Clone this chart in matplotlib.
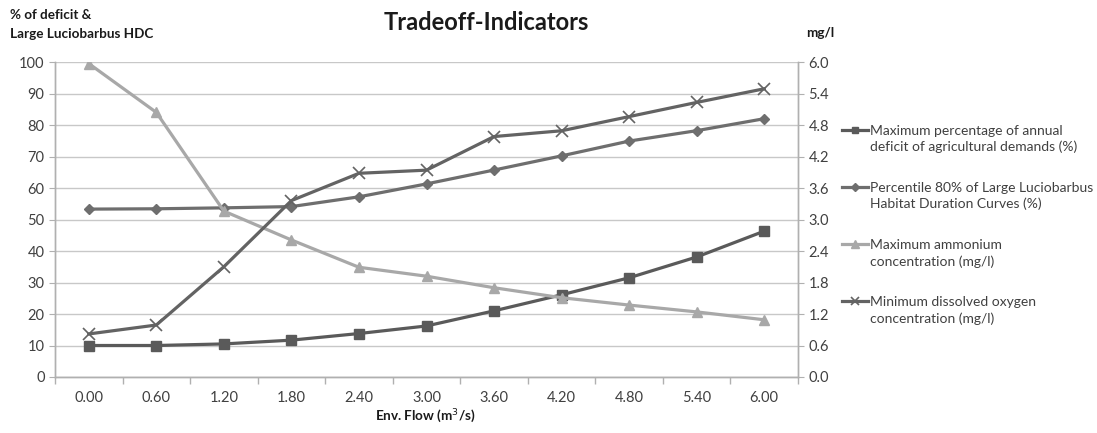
import matplotlib
matplotlib.use("Agg")
import matplotlib.pyplot as plt
from matplotlib.offsetbox import DrawingArea
import numpy as np

plt.rcParams['font.family'] = ['Lato', 'DejaVu Sans']

flow_labels = ["0.00", "0.60", "1.20", "1.80", "2.40", "3.00", "3.60", "4.20", "4.80", "5.40", "6.00"]
deficit = [10.0, 10.0, 10.5, 11.7, 13.8, 16.2, 21.0, 26.1, 31.5, 38.1, 46.3]
hdc = [53.3, 53.4, 53.7, 54.1, 57.2, 61.3, 65.7, 70.2, 74.9, 78.2, 82.0]
ammonium = [5.97, 5.04, 3.16, 2.61, 2.09, 1.92, 1.70, 1.51, 1.37, 1.24, 1.09]
oxygen = [0.82, 0.99, 2.10, 3.36, 3.88, 3.94, 4.58, 4.69, 4.96, 5.23, 5.49]

labels = [
    "Maximum percentage of annual\ndeficit of agricultural demands (%)",
    "Percentile 80% of Large Luciobarbus\nHabitat Duration Curves (%)",
    "Maximum ammonium\nconcentration (mg/l)",
    "Minimum dissolved oxygen\nconcentration (mg/l)",
]

c_def = "#5a5a5a"
c_hdc = "#6e6e6e"
c_amm = "#a8a8a8"
c_oxy = "#636363"
txt = "#404040"
axc = "#b0b0b0"

fig = plt.figure(figsize=(10.97, 4.33), dpi=100)
ax = fig.add_axes([55/1097, 1-377/433, (798-55)/1097, (377-62)/433])
ax2 = ax.twinx()

x = np.arange(len(flow_labels))
h1, = ax.plot(x, deficit, color=c_def, lw=2.3, marker="s", ms=6.5, label=labels[0], zorder=3)
h2, = ax.plot(x, hdc, color=c_hdc, lw=2.3, marker="D", ms=5.5, label=labels[1], zorder=3)
h3, = ax2.plot(x, ammonium, color=c_amm, lw=2.3, marker="^", ms=7.5, label=labels[2], zorder=3)
h4, = ax2.plot(x, oxygen, color=c_oxy, lw=2.3, marker="x", ms=8, mew=1.2, label=labels[3], zorder=3)

ax.set_xlim(-0.5, len(flow_labels) - 0.5)
ax.set_ylim(0, 100)
ax2.set_ylim(0, 6)
ax.set_yticks(np.arange(0, 101, 10))
ax2.set_yticks(np.round(np.arange(0, 6.01, 0.6), 1))
ax2.set_yticklabels([f"{v:.1f}" for v in np.arange(0, 6.01, 0.6)])
ax.set_xticks(x)
ax.set_xticklabels(flow_labels)
ax.set_xticks(np.arange(-0.5, len(flow_labels)), minor=True)
ax.tick_params(axis="x", which="major", length=0, pad=10, labelsize=10.5, colors=txt)
ax.tick_params(axis="x", which="minor", length=5, color=axc, width=1)
ax.tick_params(axis="y", length=4, color=axc, labelsize=10.5, labelcolor=txt)
ax2.tick_params(axis="y", length=4, color=axc, labelsize=10.5, labelcolor=txt)

ax.grid(axis="y", color="#c8c8c8", lw=1)
ax.set_axisbelow(True)
for a in (ax, ax2):
    a.spines["top"].set_visible(False)
    for s in ("left", "bottom", "right"):
        a.spines[s].set_color(axc)
        a.spines[s].set_linewidth(1)

fig.text(486/1097, 1-22/433, "Tradeoff-Indicators", ha="center", va="center",
         fontsize=17, fontweight="bold", color="#1a1a1a")
fig.text(10/1097, 1-15/433, "% of deficit &", ha="left", va="center",
         fontsize=9.7, fontweight="bold", color="#1a1a1a")
fig.text(10/1097, 1-34/433, "Large Luciobarbus HDC", ha="left", va="center",
         fontsize=9.7, fontweight="bold", color="#1a1a1a")
fig.text(806/1097, 1-33/433, "mg/l", ha="left", va="center",
         fontsize=9.7, fontweight="bold", color="#1a1a1a")
fig.text(425/1097, 1-416/433, "Env. Flow (m$^3$/s)", ha="center", va="center",
         fontsize=9.7, fontweight="bold", color="#1a1a1a")

leg = fig.legend(handles=[h1, h2, h3, h4], loc="upper left",
                 bbox_to_anchor=(842/1097, 1-125/433), frameon=False,
                 fontsize=10.0, handlelength=1.9, handletextpad=0.15,
                 labelspacing=2.07, borderaxespad=0, borderpad=0, markerscale=0.75)
for t in leg.get_texts():
    t.set_color(txt)
    t.set_linespacing(1.36)
# align handles with the first line of each label (as in the source chart)
for da in leg.findobj(lambda o: isinstance(o, DrawingArea)):
    for ch in da.get_children():
        if hasattr(ch, "get_ydata"):
            ch.set_ydata(np.asarray(ch.get_ydata()) + 6.8)

fig.savefig("out.png", dpi=100)
